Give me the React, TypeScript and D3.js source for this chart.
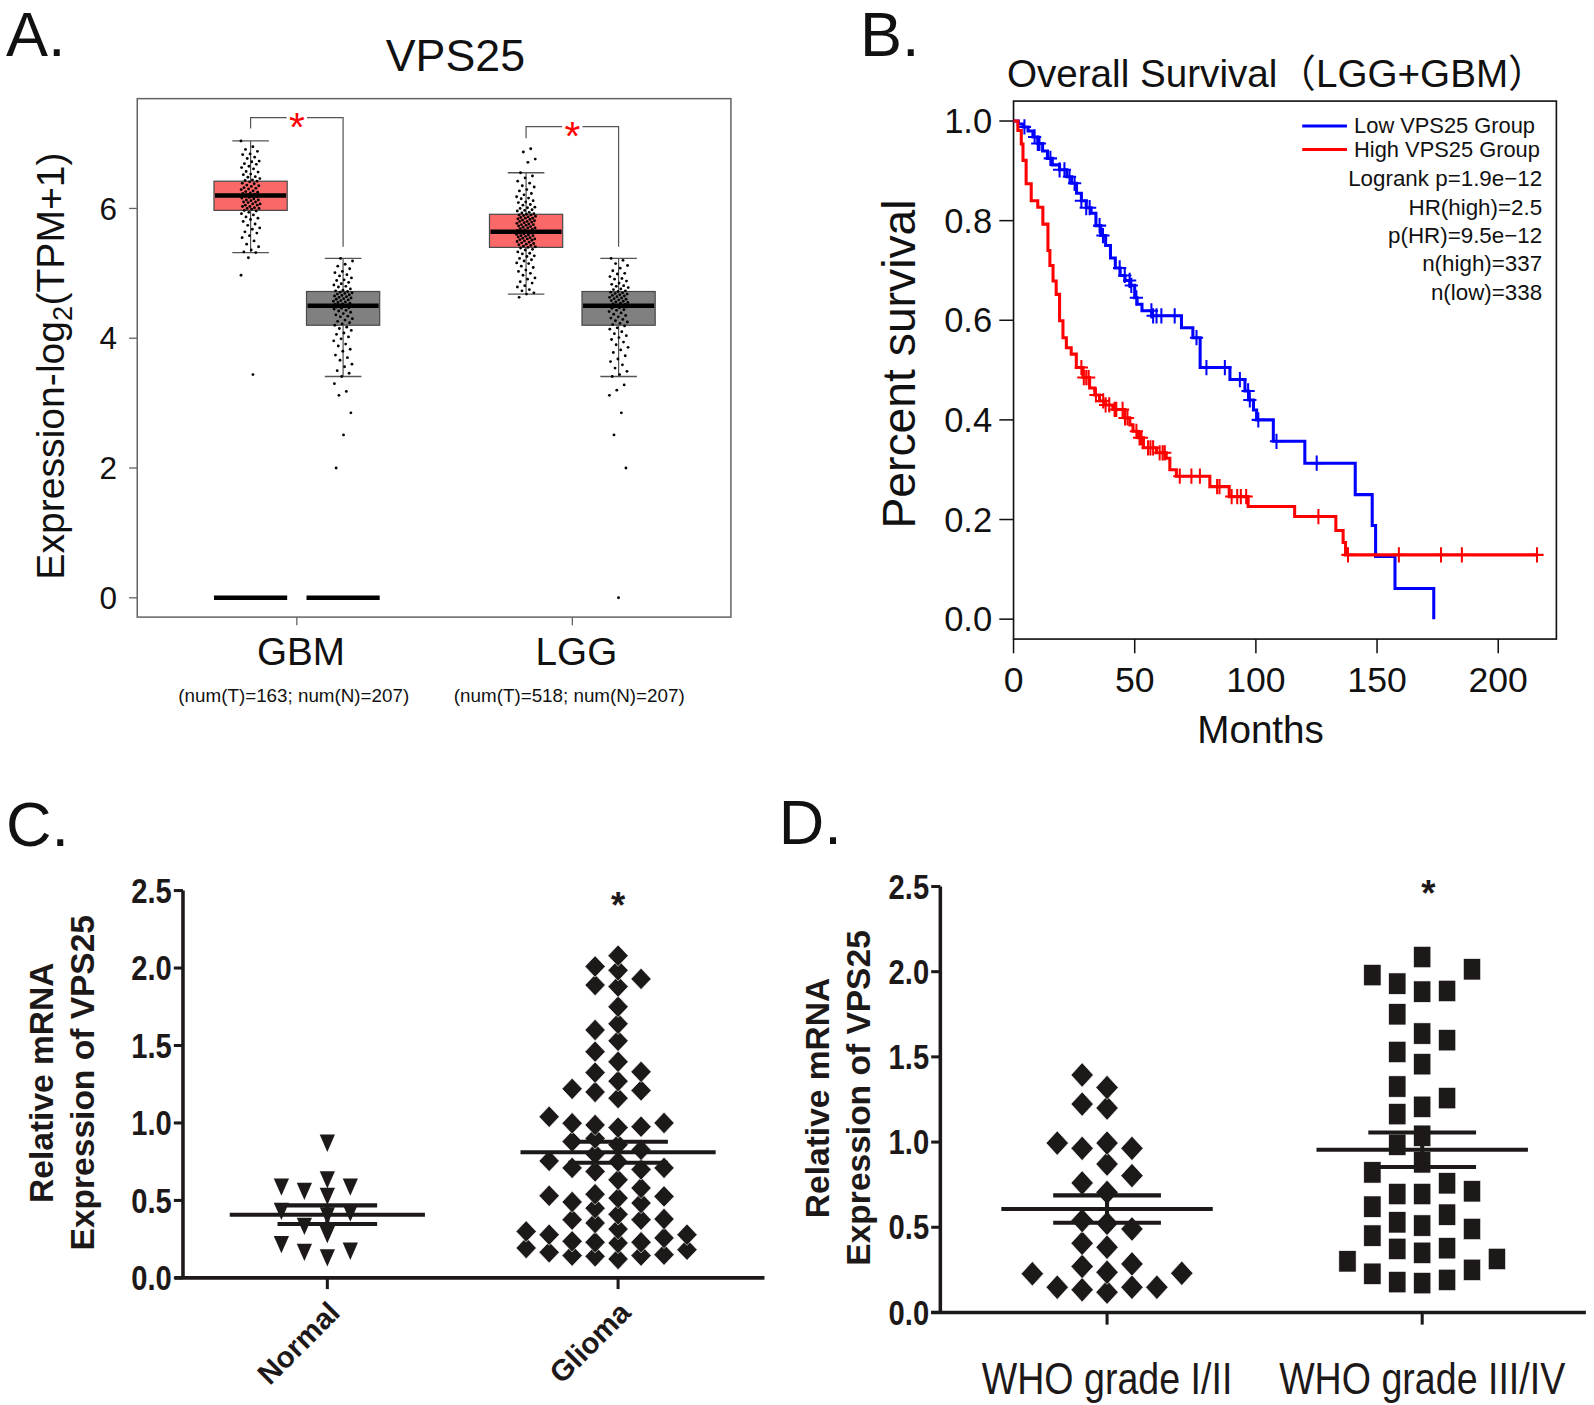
import React from "react";
import * as d3 from "d3";

const FONT = "'Liberation Sans', Arial, 'Noto Sans CJK SC', sans-serif";
const INK = "#1e1919";

// ---------------- Panel A data ----------------
const boxGroups = ["GBM", "LGG"];
const boxSubLabels = ["(num(T)=163; num(N)=207)", "(num(T)=518; num(N)=207)"];
const boxYTicks = [0, 2, 4, 6];
// [whiskerLow, q1, median, q3, whiskerHigh]
const gbmTumorStats = [5.32, 5.97, 6.2, 6.42, 7.04];
const gbmNormalStats = [3.41, 4.2, 4.5, 4.72, 5.23];
const lggTumorStats = [4.68, 5.4, 5.64, 5.91, 6.55];
const lggNormalStats = [3.41, 4.2, 4.5, 4.72, 5.23];
const zeroBarGroups = ["GBM"]; // tumour and normal have a bar at 0
const bracketTop = [7.4, 7.26];
const bracketLeftEnd = [7.23, 7.08];
const bracketRightEnd = [5.41, 5.41];

const gbmTumorPts = [7.04, 6.95, 6.91, 6.88, 6.84, 6.83, 6.79, 6.77, 6.73, 6.72, 6.69, 6.68, 6.65, 6.63, 6.61, 6.57, 6.56, 6.53, 6.52, 6.49, 6.48, 6.46, 6.44, 6.43, 6.42, 6.41, 6.39, 6.38, 6.36, 6.35, 6.34, 6.32, 6.31, 6.3, 6.29, 6.27, 6.26, 6.25, 6.24, 6.23, 6.22, 6.21, 6.2, 6.2, 6.19, 6.18, 6.17, 6.16, 6.15, 6.13, 6.13, 6.12, 6.1, 6.1, 6.09, 6.07, 6.07, 6.05, 6.05, 6.03, 6.03, 6.01, 6.0, 6.0, 5.99, 5.97, 5.96, 5.94, 5.92, 5.9, 5.87, 5.85, 5.83, 5.8, 5.76, 5.74, 5.7, 5.68, 5.64, 5.62, 5.58, 5.55, 5.5, 5.45, 5.41, 5.36, 5.33, 5.32, 5.24, 4.97, 3.44];
const gbmNormalPts = [5.23, 5.19, 5.14, 5.11, 5.07, 5.03, 5.01, 4.98, 4.96, 4.93, 4.9, 4.89, 4.86, 4.84, 4.82, 4.8, 4.79, 4.76, 4.74, 4.73, 4.72, 4.71, 4.7, 4.69, 4.68, 4.67, 4.66, 4.65, 4.64, 4.63, 4.62, 4.61, 4.6, 4.59, 4.58, 4.57, 4.56, 4.55, 4.54, 4.53, 4.52, 4.51, 4.5, 4.5, 4.49, 4.48, 4.47, 4.46, 4.45, 4.43, 4.42, 4.4, 4.38, 4.36, 4.34, 4.33, 4.3, 4.28, 4.26, 4.24, 4.22, 4.2, 4.17, 4.15, 4.12, 4.08, 4.06, 4.02, 3.99, 3.96, 3.91, 3.88, 3.83, 3.8, 3.74, 3.7, 3.66, 3.6, 3.56, 3.5, 3.46, 3.41, 3.3, 3.18, 3.12, 2.85, 2.51, 2.0];
const lggTumorPts = [6.92, 6.87, 6.76, 6.71, 6.55, 6.5, 6.47, 6.42, 6.39, 6.35, 6.33, 6.29, 6.27, 6.23, 6.21, 6.18, 6.16, 6.15, 6.12, 6.1, 6.09, 6.06, 6.05, 6.02, 6.01, 6.0, 5.98, 5.97, 5.96, 5.94, 5.93, 5.92, 5.91, 5.9, 5.9, 5.89, 5.88, 5.87, 5.86, 5.85, 5.85, 5.84, 5.83, 5.82, 5.81, 5.8, 5.8, 5.79, 5.78, 5.77, 5.76, 5.75, 5.75, 5.74, 5.73, 5.72, 5.71, 5.7, 5.7, 5.69, 5.68, 5.67, 5.66, 5.65, 5.65, 5.64, 5.63, 5.62, 5.62, 5.61, 5.6, 5.59, 5.58, 5.58, 5.57, 5.56, 5.55, 5.54, 5.53, 5.53, 5.52, 5.51, 5.5, 5.49, 5.48, 5.47, 5.46, 5.45, 5.44, 5.43, 5.42, 5.41, 5.4, 5.39, 5.37, 5.36, 5.33, 5.31, 5.3, 5.27, 5.26, 5.23, 5.21, 5.19, 5.16, 5.15, 5.11, 5.09, 5.05, 5.03, 5.0, 4.97, 4.93, 4.91, 4.87, 4.85, 4.81, 4.79, 4.75, 4.73, 4.7, 4.68, 4.63];
const lggNormalPts = [5.23, 5.2, 5.15, 5.12, 5.08, 5.04, 5.0, 4.99, 4.95, 4.92, 4.91, 4.88, 4.85, 4.83, 4.81, 4.8, 4.78, 4.76, 4.75, 4.73, 4.72, 4.71, 4.7, 4.69, 4.68, 4.67, 4.66, 4.65, 4.64, 4.63, 4.62, 4.61, 4.6, 4.59, 4.58, 4.57, 4.56, 4.55, 4.54, 4.53, 4.52, 4.51, 4.5, 4.5, 4.49, 4.48, 4.47, 4.46, 4.44, 4.43, 4.41, 4.39, 4.37, 4.35, 4.33, 4.31, 4.29, 4.27, 4.25, 4.23, 4.21, 4.19, 4.16, 4.14, 4.1, 4.07, 4.04, 4.01, 3.98, 3.94, 3.9, 3.86, 3.82, 3.78, 3.73, 3.68, 3.64, 3.59, 3.54, 3.49, 3.44, 3.41, 3.28, 3.2, 3.12, 2.85, 2.51, 2.0, 0];

// ---------------- Panel B data ----------------
const kmXTicks = [0, 50, 100, 150, 200];
const kmYTicks = [0, 0.2, 0.4, 0.6, 0.8, 1.0];
const lowTimes = [0, 2, 4, 6, 8, 10, 12, 14, 16, 19, 22, 24, 26, 28, 30, 32, 34, 36, 38, 40, 42, 44, 46, 48, 50, 51, 53, 57, 69.3, 74, 77, 89.3, 95.5, 97, 99, 100.3, 107.2, 120.2, 141, 148, 149.4, 157.4, 173.4];
const lowSurv = [1, 0.994, 0.988, 0.98, 0.968, 0.955, 0.94, 0.925, 0.912, 0.902, 0.888, 0.875, 0.855, 0.84, 0.826, 0.815, 0.79, 0.77, 0.75, 0.725, 0.705, 0.69, 0.68, 0.67, 0.645, 0.632, 0.619, 0.609, 0.585, 0.565, 0.505, 0.481, 0.458, 0.44, 0.42, 0.4, 0.357, 0.313, 0.25, 0.188, 0.126, 0.0615, 0];
const lowCensor = [4.5, 8.7, 10, 10.7, 15.2, 19, 21, 23.1, 25.2, 28, 30, 31.4, 35.5, 36.9, 43.8, 45.9, 47.9, 48.6, 50.7, 56.9, 57.6, 59, 61, 66.5, 75.5, 79.6, 87.2, 93.4, 96.8, 97.5, 101, 108.5, 125.1];
const highTimes = [0, 1.8, 3.2, 3.9, 5.2, 7.3, 10, 12.1, 14.2, 15, 16.3, 17.6, 19, 20.4, 21.8, 23.8, 25.9, 28.7, 31.4, 33.5, 35.5, 38, 41, 45.9, 48, 49.3, 51.4, 53.6, 59, 63, 64.5, 67.2, 81, 89, 96.8, 116, 133, 136, 137, 216];
const highSurv = [1, 0.981, 0.954, 0.921, 0.874, 0.84, 0.827, 0.793, 0.74, 0.71, 0.679, 0.652, 0.599, 0.565, 0.545, 0.532, 0.505, 0.485, 0.464, 0.45, 0.438, 0.43, 0.421, 0.404, 0.39, 0.377, 0.364, 0.344, 0.334, 0.323, 0.3, 0.287, 0.266, 0.246, 0.226, 0.206, 0.178, 0.154, 0.129, 0.129];
const highCensor = [28, 29, 30, 31, 34, 37, 38, 39.5, 41.7, 42.4, 45, 46, 47, 50.7, 52, 52.8, 55.5, 56.5, 57.6, 60.3, 61.5, 62.4, 68.6, 73.4, 76.9, 84, 85, 90, 92.3, 93.8, 96, 125.8, 138, 159, 176.4, 185, 216];
const kmLegend = ["Low VPS25 Group", "High VPS25 Group"];
const kmStats = ["Logrank p=1.9e\u221212", "HR(high)=2.5", "p(HR)=9.5e\u221212", "n(high)=337", "n(low)=338"];

// ---------------- Panel C data ----------------
const cYTicks = [0, 0.5, 1.0, 1.5, 2.0, 2.5];
const cGroups = ["Normal", "Glioma"];
const normalVals = [0.869, 0.633, 0.586, 0.526, 0.558, 0.586, 0.418, 0.429, 0.4, 0.333, 0.279, 0.172, 0.129, 0.165, 0.215];
const gliomaVals = [2.08, 2.01, 1.985, 1.93, 1.88, 1.89, 1.75, 1.64, 1.6, 1.53, 1.46, 1.395, 1.33, 1.325, 1.27, 1.21, 1.2, 1.22, 1.16, 1.04, 1.0, 0.976, 0.97, 0.987, 0.998, 0.9, 0.88, 0.86, 0.826, 0.8, 0.75, 0.71, 0.687, 0.7, 0.71, 0.755, 0.633, 0.58, 0.54, 0.526, 0.49, 0.483, 0.515, 0.53, 0.45, 0.41, 0.376, 0.376, 0.315, 0.3, 0.354, 0.38, 0.258, 0.236, 0.279, 0.225, 0.279, 0.193, 0.23, 0.23, 0.182, 0.15, 0.139, 0.122, 0.144, 0.144, 0.165];
const cMeanSem = [[0.408, 0.06], [0.811, 0.068]];

// ---------------- Panel D data ----------------
const dYTicks = [0, 0.5, 1.0, 1.5, 2.0, 2.5];
const dGroups = ["WHO grade I/II", "WHO grade III/IV"];
const grade12Vals = [1.394, 1.32, 1.223, 1.2, 0.994, 0.963, 0.963, 0.994, 0.871, 0.803, 0.76, 0.705, 0.539, 0.523, 0.49, 0.406, 0.383, 0.285, 0.27, 0.236, 0.23, 0.227, 0.148, 0.133, 0.119, 0.148, 0.148];
const grade34Vals = [2.086, 1.98, 2.014, 1.887, 1.883, 1.93, 1.75, 1.637, 1.598, 1.529, 1.457, 1.326, 1.258, 1.207, 1.164, 1.037, 0.984, 0.881, 0.822, 0.758, 0.695, 0.695, 0.711, 0.621, 0.574, 0.51, 0.529, 0.49, 0.451, 0.373, 0.35, 0.377, 0.314, 0.3, 0.25, 0.227, 0.191, 0.172, 0.178];
const dMeanSem = [[0.607, 0.08], [0.955, 0.101]];

// ---------------- helpers ----------------
function swarm(values: number[], y: (v: number) => number, step: number, minDy: number) {
  const order = values.map((_, i) => i).sort((a, b) => values[a] - values[b]);
  const cands: number[] = [0];
  for (let k = 0.5; k <= 10; k += 0.5) cands.push(-k, k);
  const placed: { x: number; y: number }[] = [];
  for (const i of order) {
    const py = y(values[i]);
    let px = 0;
    for (const c of cands) {
      const cx = c * step;
      if (placed.every((p) => Math.abs(p.x - cx) >= step * 0.95 || Math.abs(p.y - py) >= minDy)) {
        px = cx;
        break;
      }
    }
    placed.push({ x: px, y: py });
  }
  return placed;
}

function stepAt(times: number[], surv: number[], t: number) {
  let s = surv[0];
  for (let i = 0; i < times.length; i++) if (times[i] <= t) s = surv[i];
  return s;
}

function NarrowText(props: { x: number; y: number; size: number; anchor?: string; bold?: boolean; sx?: number; children: React.ReactNode; rotate?: number }) {
  const { x, y, size, anchor = "start", bold = false, sx = 0.82, rotate = 0 } = props;
  return (
    <g transform={`translate(${x},${y}) rotate(${rotate}) scale(${sx},1)`}>
      <text x={0} y={0} fontSize={size} fontWeight={bold ? "bold" : "normal"} textAnchor={anchor} fontFamily={FONT} fill={INK}>
        {props.children}
      </text>
    </g>
  );
}

export default function App() {
  // ---------- Panel A ----------
  const xA = d3.scalePoint<string>().domain(boxGroups).range([292, 563]);
  const yA = d3.scaleLinear().domain([0, 6]).range([588, 205]);
  const boxOff = 45.5;
  const boxW = 72;
  const RED = "#fb6868";
  const GRAY = "#808080";
  const boxes = [
    { g: "GBM", side: -1, stats: gbmTumorStats, pts: gbmTumorPts, fill: RED },
    { g: "GBM", side: 1, stats: gbmNormalStats, pts: gbmNormalPts, fill: GRAY },
    { g: "LGG", side: -1, stats: lggTumorStats, pts: lggTumorPts, fill: RED },
    { g: "LGG", side: 1, stats: lggNormalStats, pts: lggNormalPts, fill: GRAY },
  ];

  // ---------- Panel B ----------
  const xB = d3.scaleLinear().domain([0, 224]).range([997, 1531]);
  const yB = d3.scaleLinear().domain([0, 1]).range([609, 119]);
  const stepLine = d3
    .line<[number, number]>()
    .x((d) => xB(d[0]))
    .y((d) => yB(d[1]))
    .curve(d3.curveStepAfter);
  const lowPath = stepLine(lowTimes.map((t, i) => [t, lowSurv[i]] as [number, number])) || "";
  const highPath = stepLine(highTimes.map((t, i) => [t, highSurv[i]] as [number, number])) || "";
  const BLUE = "#0000ff";
  const KMRED = "#ff0000";
  const cross = (t: number, times: number[], surv: number[]) => {
    const x = xB(t);
    const y = yB(stepAt(times, surv, t));
    return `M${x - 6.5},${y}H${x + 6.5}M${x},${y - 7.5}V${y + 7.5}`;
  };

  // ---------- Panel C ----------
  const xC = d3.scalePoint<string>().domain(cGroups).range([322, 608]);
  const yC = d3.scaleLinear().domain([0, 2.5]).range([1257, 876]);
  const normalSw = swarm(normalVals, yC, 22.6, 15);
  const gliomaSw = swarm(gliomaVals, yC, 22.6, 12.5);

  // ---------- Panel D ----------
  const xD = d3.scalePoint<string>().domain(dGroups).range([1089, 1399]);
  const yD = d3.scaleLinear().domain([0, 2.5]).range([1291, 872]);
  const g12Sw = swarm(grade12Vals, yD, 24.5, 19);
  const g34Sw = swarm(grade34Vals, yD, 24.5, 24);

  const diamond = (cx: number, cy: number, w: number, h: number) =>
    `M${cx},${cy - h / 2}L${cx + w / 2},${cy}L${cx},${cy + h / 2}L${cx - w / 2},${cy}Z`;
  const triDown = (cx: number, cy: number, w: number, h: number) =>
    `M${cx - w / 2},${cy - h / 2}L${cx + w / 2},${cy - h / 2}L${cx},${cy + h / 2}Z`;

  const meanSem = (cx: number, y: (v: number) => number, ms: number[], half: number, capHalf: number) => (
    <g stroke={INK} strokeWidth={4} fill="none">
      <line x1={cx - half} x2={cx + half} y1={y(ms[0])} y2={y(ms[0])} />
      <line x1={cx - capHalf} x2={cx + capHalf} y1={y(ms[0] + ms[1])} y2={y(ms[0] + ms[1])} />
      <line x1={cx - capHalf} x2={cx + capHalf} y1={y(ms[0] - ms[1])} y2={y(ms[0] - ms[1])} />
      <line x1={cx} x2={cx} y1={y(ms[0] + ms[1])} y2={y(ms[0] - ms[1])} />
    </g>
  );

  return (
    <div style={{ position: "absolute", left: 0, top: 0, background: "#fff" }}>
      <svg width={1594} height={1405} viewBox="0 0 1568 1382" style={{ display: "block", background: "#fff" }} fontFamily={FONT}>
        <rect x={0} y={0} width={1568} height={1382} fill="#fff" />

        {/* ================= Panel A ================= */}
        <text x={6} y={55} fontSize={62} fill="#111">A.</text>
        <text x={448} y={70} fontSize={44} textAnchor="middle" fill="#111">VPS25</text>
        <rect x={135} y={97} width={584} height={510} fill="none" stroke="#666" strokeWidth={1.5} />
        {boxYTicks.map((t) => (
          <g key={"ya" + t}>
            <line x1={127} x2={135} y1={yA(t)} y2={yA(t)} stroke="#666" strokeWidth={1.3} />
            <text x={115} y={yA(t) + 11} fontSize={31} textAnchor="end" fill="#111">{t}</text>
          </g>
        ))}
        <text transform="translate(63,360) rotate(-90)" fontSize={38.5} textAnchor="middle" fill="#111">
          Expression-log<tspan fontSize={27} dy={8}>2</tspan><tspan dy={-8}>(TPM+1)</tspan>
        </text>
        {boxGroups.map((g, i) => (
          <g key={"xa" + g}>
            <line x1={xA(g)!} x2={xA(g)!} y1={607} y2={615} stroke="#666" strokeWidth={1.3} />
            <text x={xA(g)! + 4} y={654} fontSize={38} textAnchor="middle" fill="#111">{g}</text>
            <text x={xA(g)! - 3} y={691} fontSize={18.5} textAnchor="middle" fill="#111">{boxSubLabels[i]}</text>
          </g>
        ))}
        {boxes.map((b, bi) => {
          const cx = xA(b.g)! + b.side * boxOff;
          const [wl, q1, med, q3, wh] = b.stats;
          return (
            <g key={"box" + bi}>
              <line x1={cx} x2={cx} y1={yA(wh)} y2={yA(q3)} stroke="#555" strokeWidth={1.2} />
              <line x1={cx} x2={cx} y1={yA(q1)} y2={yA(wl)} stroke="#555" strokeWidth={1.2} />
              <line x1={cx - 18} x2={cx + 18} y1={yA(wh)} y2={yA(wh)} stroke="#555" strokeWidth={1.3} />
              <line x1={cx - 18} x2={cx + 18} y1={yA(wl)} y2={yA(wl)} stroke="#555" strokeWidth={1.3} />
              <rect x={cx - boxW / 2} y={yA(q3)} width={boxW} height={yA(q1) - yA(q3)} fill={b.fill} stroke="#4a4a4a" strokeWidth={1.2} />
              {b.pts.map((v, i) => {
                const jit = (((i * 0.61803398875 + bi * 0.37) % 1) - 0.5) * 19;
                return <circle key={i} cx={cx + jit} cy={yA(v)} r={1.4} fill="#000" />;
              })}
              <line x1={cx - boxW / 2 + 1} x2={cx + boxW / 2 - 1} y1={yA(med)} y2={yA(med)} stroke="#000" strokeWidth={4.5} />
              {zeroBarGroups.includes(b.g) && (
                <line x1={cx - boxW / 2} x2={cx + boxW / 2} y1={yA(0)} y2={yA(0)} stroke="#000" strokeWidth={4.5} />
              )}
            </g>
          );
        })}
        {boxGroups.map((g, i) => {
          const lx = xA(g)! - boxOff;
          const rx = xA(g)! + boxOff;
          const mid = xA(g)!;
          const ty = yA(bracketTop[i]);
          return (
            <g key={"br" + g} stroke="#555" strokeWidth={1.2} fill="none">
              <path d={`M${lx},${yA(bracketLeftEnd[i])}V${ty}H${mid - 10}`} />
              <path d={`M${mid + 10},${ty}H${rx}V${yA(bracketRightEnd[i])}`} />
              <text x={mid} y={ty + 23} fontSize={40} textAnchor="middle" fill="#ff0000" stroke="none">*</text>
            </g>
          );
        })}

        {/* ================= Panel B ================= */}
        <text x={846} y={55} fontSize={62} fill="#111">B.</text>
        <text x={1256} y={86} fontSize={38} textAnchor="middle" fill="#111">Overall Survival（LGG+GBM）</text>
        <rect x={997} y={yB(1.04)} width={534} height={yB(-0.04) - yB(1.04)} fill="none" stroke="#111" strokeWidth={1.6} />
        {kmYTicks.map((t) => (
          <g key={"yb" + t}>
            <line x1={983} x2={997} y1={yB(t)} y2={yB(t)} stroke="#111" strokeWidth={1.5} />
            <text x={976} y={yB(t) + 12} fontSize={34} textAnchor="end" fill="#111">{t.toFixed(1)}</text>
          </g>
        ))}
        {kmXTicks.map((t) => (
          <g key={"xb" + t}>
            <line x1={xB(t)} x2={xB(t)} y1={yB(-0.04)} y2={yB(-0.04) + 14} stroke="#111" strokeWidth={1.5} />
            <text x={xB(t)} y={681} fontSize={35} textAnchor="middle" fill="#111">{t}</text>
          </g>
        ))}
        <text x={1240} y={731} fontSize={38} textAnchor="middle" fill="#111">Months</text>
        <text transform="translate(900,358) rotate(-90)" fontSize={45.5} textAnchor="middle" fill="#111">Percent survival</text>
        <path d={lowPath} fill="none" stroke={BLUE} strokeWidth={3} />
        <path d={lowCensor.map((t) => cross(t, lowTimes, lowSurv)).join("")} fill="none" stroke={BLUE} strokeWidth={2} />
        <path d={highPath} fill="none" stroke={KMRED} strokeWidth={3} />
        <path d={highCensor.map((t) => cross(t, highTimes, highSurv)).join("")} fill="none" stroke={KMRED} strokeWidth={2} />
        {kmLegend.map((l, i) => (
          <g key={"lg" + l}>
            <line x1={1281} x2={1325} y1={124 + i * 23} y2={124 + i * 23} stroke={i === 0 ? BLUE : KMRED} strokeWidth={3} />
            <text x={1332} y={131 + i * 23} fontSize={21.5} fill="#111">{l}</text>
          </g>
        ))}
        {kmStats.map((s, i) => (
          <text key={"st" + i} x={1517} y={183 + i * 28} fontSize={22} textAnchor="end" fill="#111">{s}</text>
        ))}

        {/* ================= Panel C ================= */}
        <text x={6} y={832} fontSize={62} fill="#111">C.</text>
        <text transform="translate(52,1065) rotate(-90)" fontSize={33} fontWeight="bold" textAnchor="middle" fill={INK}>Relative mRNA</text>
        <text transform="translate(92,1065) rotate(-90)" fontSize={33} fontWeight="bold" textAnchor="middle" fill={INK}>Expression of VPS25</text>
        <line x1={180} x2={180} y1={yC(2.5)} y2={yC(0)} stroke={INK} strokeWidth={3.5} />
        <line x1={172} x2={752} y1={yC(0)} y2={yC(0)} stroke={INK} strokeWidth={3.5} />
        {cYTicks.map((t) => (
          <g key={"yc" + t}>
            <line x1={171} x2={180} y1={yC(t)} y2={yC(t)} stroke={INK} strokeWidth={3} />
            <NarrowText x={169} y={yC(t) + 12} size={35} anchor="end" bold>{t.toFixed(1)}</NarrowText>
          </g>
        ))}
        {cGroups.map((g) => (
          <g key={"xc" + g}>
            <line x1={xC(g)!} x2={xC(g)!} y1={yC(0)} y2={yC(0) + 11} stroke={INK} strokeWidth={3} />
            <text transform={`translate(${xC(g)! + 14},${yC(0) + 36}) rotate(-45)`} fontSize={29} fontWeight="bold" textAnchor="end" fill={INK}>{g}</text>
          </g>
        ))}
        {normalSw.map((p, i) => (
          <path key={"nt" + i} d={triDown(xC("Normal")! + p.x, p.y, 15, 17)} fill={INK} />
        ))}
        {gliomaSw.map((p, i) => (
          <path key={"gd" + i} d={diamond(xC("Glioma")! + p.x, p.y, 20, 21)} fill={INK} stroke="#fff" strokeWidth={0.6} />
        ))}
        {meanSem(xC("Normal")!, yC, cMeanSem[0], 96, 49)}
        {meanSem(xC("Glioma")!, yC, cMeanSem[1], 96, 49)}
        <text x={xC("Glioma")!} y={903} fontSize={36} fontWeight="bold" textAnchor="middle" fill={INK}>*</text>

        {/* ================= Panel D ================= */}
        <text x={766} y={830} fontSize={62} fill="#111">D.</text>
        <text transform="translate(815,1080) rotate(-90)" fontSize={33} fontWeight="bold" textAnchor="middle" fill={INK}>Relative mRNA</text>
        <text transform="translate(856,1080) rotate(-90)" fontSize={33} fontWeight="bold" textAnchor="middle" fill={INK}>Expression of VPS25</text>
        <line x1={925} x2={925} y1={yD(2.5)} y2={yD(0)} stroke={INK} strokeWidth={3.5} />
        <line x1={916} x2={1560} y1={yD(0)} y2={yD(0)} stroke={INK} strokeWidth={3.5} />
        {dYTicks.map((t) => (
          <g key={"yd" + t}>
            <line x1={916} x2={925} y1={yD(t)} y2={yD(t)} stroke={INK} strokeWidth={3} />
            <NarrowText x={914} y={yD(t) + 12} size={35} anchor="end" bold>{t.toFixed(1)}</NarrowText>
          </g>
        ))}
        {dGroups.map((g) => (
          <g key={"xd" + g}>
            <line x1={xD(g)!} x2={xD(g)!} y1={yD(0)} y2={yD(0) + 12} stroke={INK} strokeWidth={3} />
            <NarrowText x={xD(g)!} y={1371} size={43} anchor="middle" sx={0.86}>{g}</NarrowText>
          </g>
        ))}
        {g12Sw.map((p, i) => (
          <path key={"d12" + i} d={diamond(xD(dGroups[0])! + p.x, p.y, 22, 24)} fill={INK} stroke="#fff" strokeWidth={0.6} />
        ))}
        {g34Sw.map((p, i) => (
          <rect key={"d34" + i} x={xD(dGroups[1])! + p.x - 8.5} y={p.y - 10.5} width={17} height={21} fill={INK} stroke="#fff" strokeWidth={0.6} />
        ))}
        {meanSem(xD(dGroups[0])!, yD, dMeanSem[0], 104, 53)}
        {meanSem(xD(dGroups[1])!, yD, dMeanSem[1], 104, 53)}
        <text x={xD(dGroups[1])! + 6} y={891} fontSize={36} fontWeight="bold" textAnchor="middle" fill={INK}>*</text>
      </svg>
    </div>
  );
}
